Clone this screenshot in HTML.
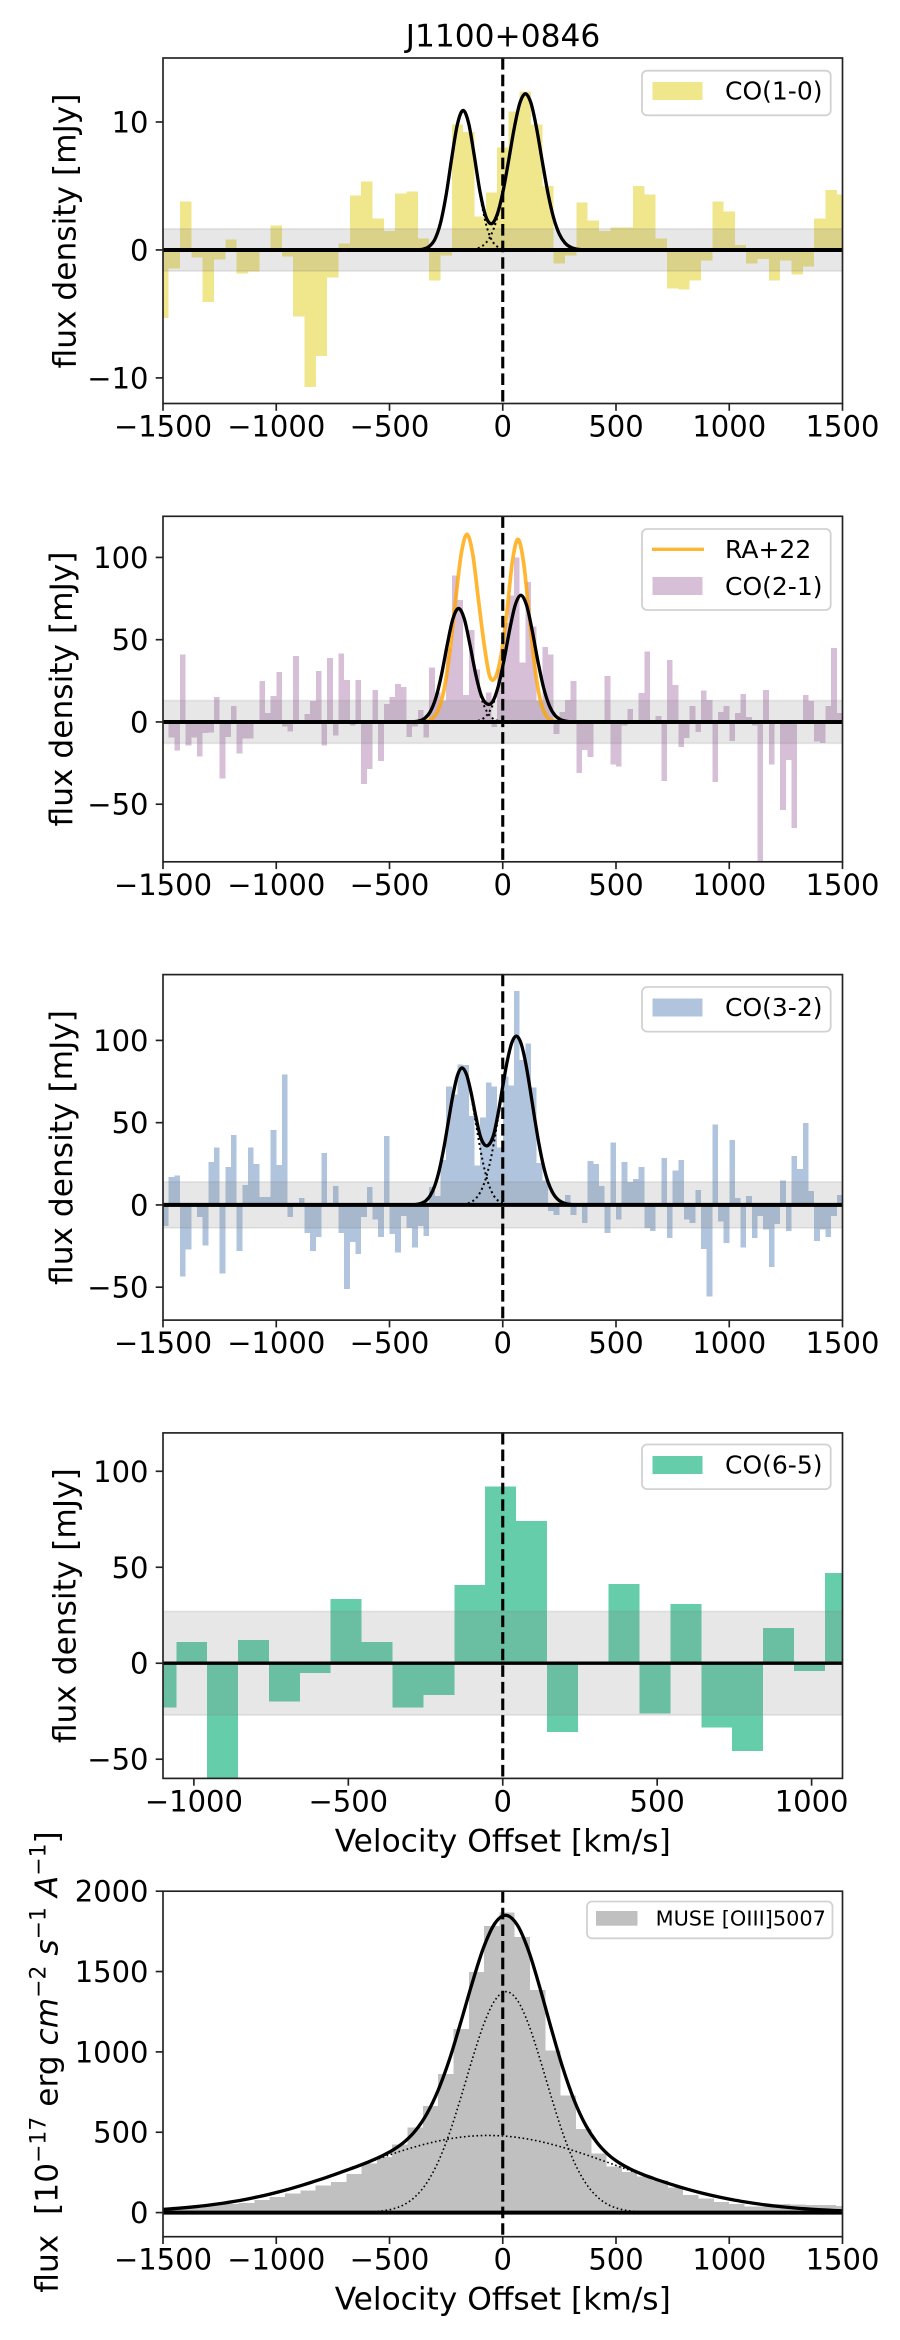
<!DOCTYPE html>
<html lang="en">
<head>
<meta charset="utf-8">
<title>J1100+0846 CO and [OIII] spectra</title>
<style>
html,body{margin:0;padding:0;background:#fff;}
svg{display:block;}
text{font-family:"DejaVu Sans","Liberation Sans",sans-serif;fill:#000;}
.ylab{font-size:31.25px;text-anchor:middle;}
.xlab{font-size:31.25px;text-anchor:middle;}
.leg{font-size:25px;}
.legframe{fill:#fff;fill-opacity:.8;stroke:#d2d2d2;stroke-width:1.8;}
</style>
</head>
<body>
<svg id="chart" xmlns="http://www.w3.org/2000/svg" width="900" height="2340" viewBox="0 0 900 2340">
  <rect x="0" y="0" width="900" height="2340" fill="#fff"/>
  <text x="503" y="46.5" font-size="31.25" text-anchor="middle">J1100+0846</text>

  <g id="panel-co10"></g>
  <g id="panel-co21"></g>
  <g id="panel-co32"></g>
  <g id="panel-co65"></g>
  <g id="panel-muse"></g>

  <text class="ylab" transform="translate(75.7 231) rotate(-90)">flux density [mJy]</text>
  <text class="ylab" transform="translate(71.8 689) rotate(-90)">flux density [mJy]</text>
  <text class="ylab" transform="translate(71.8 1147.5) rotate(-90)">flux density [mJy]</text>
  <text class="ylab" transform="translate(75.7 1605.7) rotate(-90)">flux density [mJy]</text>
  <text class="ylab" transform="translate(57.4 2062) rotate(-90)" xml:space="preserve">flux&#160;&#160;[10<tspan font-size="21.9" dy="-12">−17</tspan><tspan dy="12"> erg </tspan><tspan font-style="italic">cm</tspan><tspan font-size="21.9" dy="-12">−2</tspan><tspan dy="12"> </tspan><tspan font-style="italic">s</tspan><tspan font-size="21.9" dy="-12">−1</tspan><tspan dy="12"> </tspan><tspan font-style="italic">A</tspan><tspan font-size="21.9" dy="-12">−1</tspan><tspan dy="12">]</tspan></text>

  <text class="xlab" x="502.75" y="1851.5">Velocity Offset [km/s]</text>
  <text class="xlab" x="502.75" y="2309.5">Velocity Offset [km/s]</text>

  <g>
    <rect class="legframe" x="642" y="70.7" width="188.7" height="44.6" rx="5"/>
    <rect x="652.5" y="82" width="50" height="18" fill="#f0e68c"/>
    <text class="leg" x="725" y="99.5">CO(1-0)</text>
  </g>
  <g>
    <rect class="legframe" x="642" y="529" width="188.7" height="81" rx="5"/>
    <line x1="652" y1="549.3" x2="704" y2="549.3" stroke="#ffa500" stroke-opacity=".8" stroke-width="3.3"/>
    <text class="leg" x="725" y="558">RA+22</text>
    <rect x="652.5" y="577" width="50" height="18" fill="#d8bfd8"/>
    <text class="leg" x="725" y="595">CO(2-1)</text>
  </g>
  <g>
    <rect class="legframe" x="642" y="987" width="188.7" height="44.6" rx="5"/>
    <rect x="652.5" y="998.5" width="50" height="18" fill="#b0c4de"/>
    <text class="leg" x="725" y="1016">CO(3-2)</text>
  </g>
  <g>
    <rect class="legframe" x="642" y="1444.5" width="188.7" height="44.6" rx="5"/>
    <rect x="652.5" y="1456" width="50" height="18" fill="#66cdaa"/>
    <text class="leg" x="725" y="1473.5">CO(6-5)</text>
  </g>
  <g>
    <rect class="legframe" x="587" y="1901.5" width="245.5" height="36.8" rx="5"/>
    <rect x="596" y="1911" width="41.5" height="14.7" fill="#c0c0c0"/>
    <text x="655.6" y="1925.5" font-size="20.83">MUSE [OIII]5007</text>
  </g>
</svg>

<script>
// ---------- tick labels ----------
const xTicksWide = [-1500, -1000, -500, 0, 500, 1000, 1500];
const xTicksNarrow = [-1000, -500, 0, 500, 1000];
const yTicksCo10 = [-10, 0, 10];
const yTicksCo21 = [-50, 0, 50, 100];
const yTicksCo32 = [-50, 0, 50, 100];
const yTicksCo65 = [-50, 0, 50, 100];
const yTicksMuse = [0, 500, 1000, 1500, 2000];

// ---------- noise bands (1 sigma, mJy) ----------
const co10Rms = 1.65;
const co21Rms = 13;
const co32Rms = 14;
const co65Rms = 27;

// ---------- CO(1-0): 50 km/s bins, first centre -1500 ----------
const co10Flux = [-5.3,-1.46,3.8,-0.6,-4.05,-0.76,0.8,-1.85,-1.7,0,1.9,-0.52,-5.2,-10.7,-8.3,-2.17,0.5,4.25,5.35,2.45,1.5,4.4,4.57,0.9,-2.4,-0.45,9.8,9.2,2.6,4.5,8,10.8,12.4,9.8,5,-1.07,-0.45,3.7,2.3,1.5,1.75,1.75,5,4.33,0.9,-3.03,-3.1,-2.4,-0.84,3.8,3,0.4,-1.07,-0.7,-2.4,-0.84,-1.93,-1.3,2.45,4.7,4.33];
const co10FitV = [-1500,-400,-375,-350,-325,-300,-275,-250,-225,-200,-175,-150,-125,-100,-75,-50,-25,0,25,50,75,100,125,150,175,200,225,250,275,300,325,350,375,400,1500];
const co10FitTotal = [0,0,0.015,0.07,0.27,0.82,2.09,4.3,7.21,9.83,10.9,9.85,7.28,4.51,2.63,2.05,2.75,4.47,6.89,9.45,11.45,12.2,11.45,9.45,6.87,4.4,2.48,1.23,0.54,0.21,0.07,0.02,0.005,0,0];
const co10FitBlue = [0,0,0.015,0.07,0.27,0.82,2.09,4.3,7.21,9.83,10.9,9.83,7.21,4.3,2.09,0.82,0.27,0.07,0.015,0,0,0,0,0,0,0,0,0,0,0,0,0,0,0,0];
const co10FitRed = [0,0,0,0,0,0,0,0,0,0,0,0.02,0.07,0.21,0.54,1.23,2.48,4.4,6.87,9.45,11.45,12.2,11.45,9.45,6.87,4.4,2.48,1.23,0.54,0.21,0.07,0.02,0.005,0,0];

// ---------- CO(2-1): 25 km/s bins from -1500 ----------
const co21Flux = [-1,-9.5,-17.5,41,-14.4,-9.5,-21,-6.7,-6.3,15.2,-34.5,-9,9.8,-19.3,-10,-10,0,25,5.5,15.9,30.5,-2.8,-5.9,40.2,0.3,4.9,12.8,31,-14.4,39,-8.3,41.5,25.6,-2.2,25.6,-37.6,-28.7,19.5,-23.6,11,15.2,23.2,21.3,-9,-2.8,7.3,-9.5,33,18,13,44.5,89,74,16.5,56,32,12.8,18,-3,32,60,77,100,36,85,58,13,45.7,41,-7.3,6,13.4,25,-31,-17,-21.3,0,0.5,28,-26,-27,-2.2,8,0.3,17.7,42.7,0,3.7,-36,37.8,22.6,-15.2,-9.8,9.8,-6,19,13.4,-36.6,6,9.8,-11.6,5.5,17,3,-2.2,-90,19.5,-26,0,-53.6,-23,-64.6,0,16.5,12.8,-12,-12.8,9.8,45,5.5];
const co21FitV = [-1500,-420,-395,-370,-345,-320,-295,-270,-245,-220,-195,-170,-145,-120,-95,-70,-45,-20,5,30,55,80,105,130,155,180,205,230,255,280,305,330,355,1500];
const co21FitTotal = [0,0.03,0.15,0.62,2.17,6.26,14.8,29,47,62.7,69,62.7,47.1,29.4,16.2,11,12.3,21.6,37.2,55.6,71,77,71,55.6,37,21,10.1,4.12,1.44,0.42,0.11,0.02,0,0];
const co21FitBlue = [0,0.03,0.15,0.62,2.17,6.26,14.8,29,47,62.7,69,62.7,47,29,14.8,6.26,2.17,0.62,0.15,0.03,0,0,0,0,0,0,0,0,0,0,0,0,0,0];
const co21FitRed = [0,0,0,0,0,0,0,0,0,0,0,0.02,0.11,0.42,1.44,4.12,10.1,21,37,55.6,71,77,71,55.6,37,21,10.1,4.12,1.44,0.42,0.11,0.02,0,0];
const ra22V = [-1320,-383,-358,-333,-308,-283,-258,-233,-208,-183,-158,-133,-108,-83,-58,-33,-8,17,42,67,92,117,142,167,192,217,242,267,1280];
const ra22Flux = [0,0.02,0.12,0.6,2.4,7.8,20.5,43.4,74.2,102.4,114,102.4,75,48,28,27,40,65.2,97,111,96.9,64.6,32.8,12.7,3.7,0.84,0.14,0,0];

// ---------- CO(3-2): 25 km/s bins from -1500 ----------
const co32Flux = [-12.7,17,18,-43.4,-27,-1,-7.3,-24.6,26,35,-41.8,23,42.4,-27.9,12,35,24.8,4.8,4.8,45.5,24.2,79.4,-7.3,0,4.2,-17,-27.9,-19.4,31.5,0,11.5,-17,-51,-22.4,-29.7,-7.3,10.9,-9,-19.4,41.8,-17.6,-29,-6.7,-14,-26,-12.7,-18.8,10.9,5.5,27.3,72,67,85.5,85,54,24,53,74.5,72,35,78,72.7,130,88,98,71.5,25.5,15,-3.6,-6,2,6,-6,-0.5,-11,26.7,24.8,11.5,-17,38,-9,26,14,15.8,23,-14,-15.8,0,28.5,-20,21,27.3,-9,-11,9,-26.7,-55.8,49,-10,-23,39.4,4.2,-26,5.5,-20,-6.7,-15,-37.6,-11.5,15,-15.8,29.7,21.8,49.7,8.5,-21.8,-15,-19.4,-6.7,6];
const co32FitV = [-1500,-420,-400,-380,-360,-340,-320,-300,-280,-260,-240,-220,-200,-180,-160,-140,-120,-100,-80,-60,-40,-20,0,20,40,60,80,100,120,140,160,180,200,220,240,260,280,300,320,340,1500];
const co32FitTotal = [0,0.03,0.11,0.36,1,2.5,5.75,11.7,21.3,34.7,50.8,66.7,78.7,83.3,79.3,68.4,54.6,42.2,36.5,36.8,42.8,55.9,72.1,87.5,98.6,102.6,98.5,87.1,71.1,53.4,37,23.6,13.9,7.54,3.75,1.73,0.73,0.29,0.1,0.03,0];
const co32FitBlue = [0,0.03,0.11,0.36,1,2.5,5.75,11.7,21.3,34.7,50.8,66.7,78.6,83,78.6,66.7,50.8,34.7,21.3,11.7,5.75,2.5,1,0.36,0.11,0.03,0,0,0,0,0,0,0,0,0,0,0,0,0,0,0];
const co32FitRed = [0,0,0,0,0,0,0,0,0,0,0,0.03,0.1,0.29,0.73,1.73,3.75,7.54,13.9,23.6,37,53.4,71.1,87.1,98.5,102.6,98.5,87.1,71.1,53.4,37,23.6,13.9,7.54,3.75,1.73,0.73,0.29,0.1,0.03,0];

// ---------- CO(6-5): 100 km/s bins from -1157 ----------
const co65Flux = [-23,11,-62,12,-20,-5,33.4,11,-23,-16.5,40.7,92.2,74,-35.7,0,41.2,-26.3,30.8,-33.6,-45.6,18.4,-4,47];

// ---------- MUSE [OIII]: 67.6 km/s bins from -1502 ----------
const museFlux = [27,39,46,46,52,60,77,97,118,139,170,189,239,305,346,425,531,662,861,1141,1496,1782,1867,1714,1384,1010,730,519,369,288,253,226,201,155,108,87,66,52,39,39,52,50,46,46,40];
const museFitV = [-1500,-1485,-1435,-1385,-1335,-1285,-1235,-1185,-1135,-1085,-1035,-985,-935,-885,-835,-785,-735,-685,-635,-585,-535,-485,-435,-385,-335,-285,-235,-185,-135,-85,-35,15,65,115,165,215,265,315,365,415,465,515,565,615,665,715,765,815,865,915,965,1015,1065,1115,1165,1215,1265,1315,1365,1415,1465,1500];
const museFitTotal = [20.2,21.6,26.7,32.9,40.1,48.6,58.4,69.6,82.4,96.9,112.8,130.5,149.7,170.5,192.8,216,240.5,266,292,320,351.5,389,439,511,615,762,954,1186,1428,1648,1799,1850,1788,1625,1394,1141,901,700,547,438,362,309,270,239,213,189,166.3,145.7,126.8,109.5,93.8,79.7,67.3,56.3,46.8,38.6,31.5,25.6,20.6,16.5,13.1,11];
const museFitBroad = [20.2,21.6,26.7,32.9,40.1,48.6,58.4,69.6,82.4,96.9,112.8,130.5,149.7,170.5,192.8,216,240.5,265.6,291,316.6,341.7,365.9,388.8,410,429,445.5,459,469.5,476.4,479.7,479.3,475.3,467.7,456.7,442.5,425.4,405.9,384.3,361.1,336.7,311.5,286,260.5,235.6,211.4,188.2,166.3,145.7,126.8,109.5,93.8,79.7,67.3,56.3,46.8,38.6,31.5,25.6,20.6,16.5,13.1,11];
const museFitNarrow = [0,0,0,0,0,0,0,0,0,0,0,0,0,0,0,0,0,0.5,1.4,3.8,9.8,23,50,101,186,316,495,716,952,1168,1320,1375,1320,1168,952,716,495,316,186,101,50,23,9.8,3.8,1.4,0.5,0,0,0,0,0,0,0,0,0,0,0,0,0,0,0,0];

// ---------- layout ----------
const AX_LEFT = 163;
const AX_WIDTH = 679.5;
const AX_HEIGHT = 345.5;
const NS = 'http://www.w3.org/2000/svg';

function make(tag, parent, props) {
  const node = document.createElementNS(NS, tag);
  for (const key in props) node.setAttribute(key, props[key]);
  parent.appendChild(node);
  return node;
}

function formatTick(value) {
  return value < 0 ? '\u2212' + Math.abs(value) : String(value);
}

// Cubic Hermite through the sampled points, in pixel space.
function curvePath(xs, ys, sx, sy) {
  const px = xs.map(sx);
  const py = ys.map(sy);
  const n = px.length;
  const slope = px.map(function (_, i) {
    const a = Math.max(i - 1, 0);
    const b = Math.min(i + 1, n - 1);
    return (py[b] - py[a]) / (px[b] - px[a]);
  });
  let d = 'M' + px[0].toFixed(2) + ' ' + py[0].toFixed(2);
  for (let i = 0; i < n - 1; i++) {
    const dx = (px[i + 1] - px[i]) / 3;
    d += 'C' + (px[i] + dx).toFixed(2) + ' ' + (py[i] + slope[i] * dx).toFixed(2) + ' ' +
      (px[i + 1] - dx).toFixed(2) + ' ' + (py[i + 1] - slope[i + 1] * dx).toFixed(2) + ' ' +
      px[i + 1].toFixed(2) + ' ' + py[i + 1].toFixed(2);
  }
  return d;
}

function drawPanel(cfg) {
  const root = document.getElementById(cfg.id);
  const top = cfg.top;
  const bottom = top + AX_HEIGHT;
  const sx = function (v) { return AX_LEFT + (v - cfg.xMin) / (cfg.xMax - cfg.xMin) * AX_WIDTH; };
  const sy = function (f) { return top + (cfg.yMax - f) / (cfg.yMax - cfg.yMin) * AX_HEIGHT; };

  const defs = make('defs', root, {});
  const clip = make('clipPath', defs, { id: cfg.id + '-clip' });
  make('rect', clip, { x: AX_LEFT, y: top, width: AX_WIDTH, height: AX_HEIGHT });
  const plot = make('g', root, { 'clip-path': 'url(#' + cfg.id + '-clip)' });
  
  

  // histogram bars
  cfg.flux.forEach(function (value, i) {
    const v0 = cfg.binStart + i * cfg.binWidth;
    const x0 = sx(v0);
    const x1 = sx(v0 + cfg.binWidth);
    const y0 = sy(Math.max(value, 0));
    const y1 = sy(Math.min(value, 0));
    const bar = make('rect', plot, { x: x0, y: y0, width: x1 - x0, height: y1 - y0, fill: cfg.color, 'shape-rendering': 'crispEdges' });
    
    
  });

  // noise band
  if (cfg.rms) {
    const band = make('rect', plot, { x: AX_LEFT - 2, y: sy(cfg.rms), width: AX_WIDTH + 4, height: sy(-cfg.rms) - sy(cfg.rms), fill: '#808080', 'fill-opacity': 0.19, stroke: '#808080', 'stroke-opacity': 0.17, 'stroke-width': 1.7 });
    
    
  }

  // comparison line
  if (cfg.extraV) {
    const extra = make('path', plot, { d: curvePath(cfg.extraV, cfg.extraF, sx, sy), fill: 'none', stroke: '#ffa500', 'stroke-opacity': 0.8, 'stroke-width': 3.7 });
    
    
  }

  // fit components and total
  if (cfg.fitV) {
    cfg.components.forEach(function (series) {
      const comp = make('path', plot, { d: curvePath(cfg.fitV, series, sx, sy), fill: 'none', stroke: '#000', 'stroke-width': cfg.dotWidth, 'stroke-dasharray': cfg.dotPattern });
      
      
    });
    const total = make('path', plot, { d: curvePath(cfg.fitV, cfg.total, sx, sy), fill: 'none', stroke: '#000', 'stroke-width': 3.3 });
    
    
  }

  // zero baseline
  const base = make('line', plot, { x1: AX_LEFT, x2: AX_LEFT + AX_WIDTH, y1: sy(0), y2: sy(0), stroke: '#000', 'stroke-width': cfg.baseWidth });
  
  

  // systemic velocity marker
  const sys = make('line', plot, { x1: sx(0), x2: sx(0), y1: top, y2: bottom, stroke: '#000', 'stroke-width': 3.1, 'stroke-dasharray': '11.6 5' });
  
  

  // frame
  const frame = make('rect', root, { x: AX_LEFT, y: top, width: AX_WIDTH, height: AX_HEIGHT, fill: 'none', stroke: '#222', 'stroke-width': 1.67 });
  
  

  // x ticks
  cfg.xTicks.forEach(function (tick) {
    const mark = make('line', root, { x1: sx(tick), x2: sx(tick), y1: bottom, y2: bottom + 7.3, stroke: '#222', 'stroke-width': 1.67 });
    
    
    const label = make('text', root, { x: sx(tick), y: bottom + 33, 'text-anchor': 'middle', 'font-size': 29 });
    label.textContent = formatTick(tick);
    
    
  });

  // y ticks
  cfg.yTicks.forEach(function (tick) {
    const mark = make('line', root, { x1: AX_LEFT - 7.3, x2: AX_LEFT, y1: sy(tick), y2: sy(tick), stroke: '#222', 'stroke-width': 1.67 });
    
    
    const label = make('text', root, { x: AX_LEFT - 14.5, y: sy(tick) + 10.5, 'text-anchor': 'end', 'font-size': 29 });
    label.textContent = formatTick(tick);
    
    
  });
}

drawPanel({ id: 'panel-co10', name: 'co10', top: 58, xMin: -1500, xMax: 1500, yMin: -12, yMax: 15,
  flux: co10Flux, binStart: -1525, binWidth: 50, color: '#f0e68c', rms: co10Rms,
  fitV: co10FitV, total: co10FitTotal, components: [co10FitBlue, co10FitRed],
  dotWidth: 2, dotPattern: '2 3', baseWidth: 4, xTicks: xTicksWide, yTicks: yTicksCo10 });

drawPanel({ id: 'panel-co21', name: 'co21', top: 516.3, xMin: -1500, xMax: 1500, yMin: -85, yMax: 125,
  flux: co21Flux, binStart: -1500, binWidth: 25, color: '#d8bfd8', rms: co21Rms,
  extraV: ra22V, extraF: ra22Flux,
  fitV: co21FitV, total: co21FitTotal, components: [co21FitBlue, co21FitRed],
  dotWidth: 2, dotPattern: '2 3', baseWidth: 4, xTicks: xTicksWide, yTicks: yTicksCo21 });

drawPanel({ id: 'panel-co32', name: 'co32', top: 974.6, xMin: -1500, xMax: 1500, yMin: -70, yMax: 140,
  flux: co32Flux, binStart: -1500, binWidth: 25, color: '#b0c4de', rms: co32Rms,
  fitV: co32FitV, total: co32FitTotal, components: [co32FitBlue, co32FitRed],
  dotWidth: 2, dotPattern: '2 3', baseWidth: 4, xTicks: xTicksWide, yTicks: yTicksCo32 });

drawPanel({ id: 'panel-co65', name: 'co65', top: 1432.9, xMin: -1100, xMax: 1100, yMin: -60, yMax: 120,
  flux: co65Flux, binStart: -1157, binWidth: 100, color: '#66cdaa', rms: co65Rms,
  baseWidth: 3.4, xTicks: xTicksNarrow, yTicks: yTicksCo65 });

drawPanel({ id: 'panel-muse', name: 'muse', top: 1891.2, xMin: -1500, xMax: 1500, yMin: -150, yMax: 2000,
  flux: museFlux, binStart: -1502, binWidth: 67.6, color: '#c0c0c0',
  fitV: museFitV, total: museFitTotal, components: [museFitBroad, museFitNarrow],
  dotWidth: 1.6, dotPattern: '1.6 2.6', baseWidth: 4, xTicks: xTicksWide, yTicks: yTicksMuse });
</script>
</body>
</html>
